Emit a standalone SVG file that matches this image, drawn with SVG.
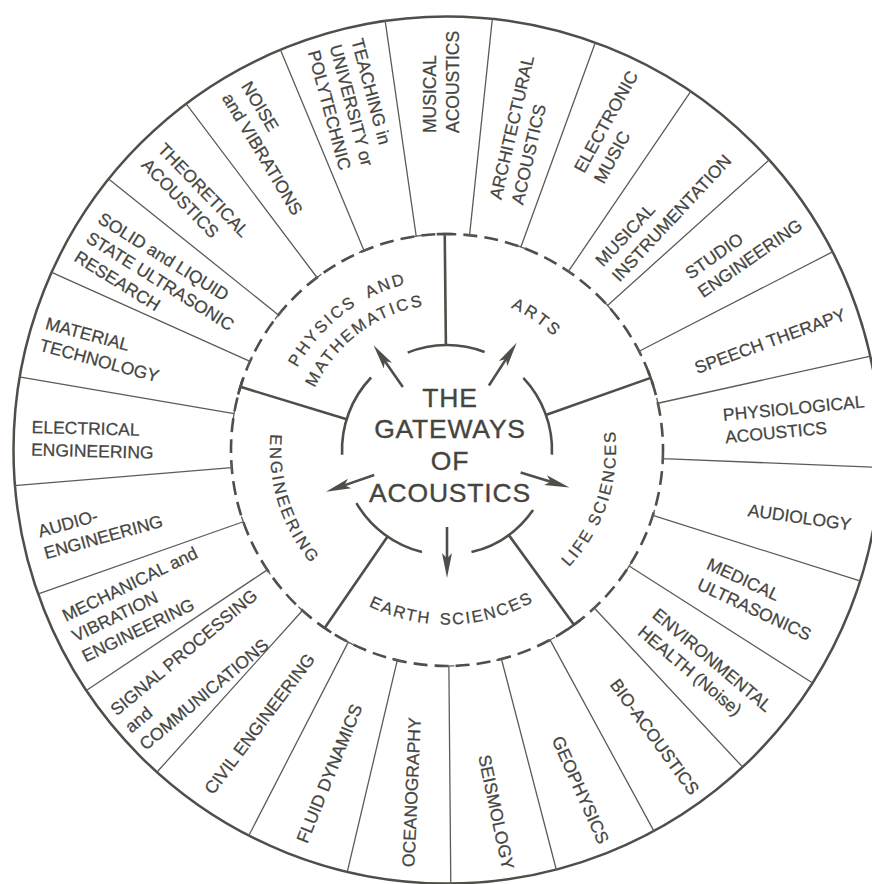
<svg xmlns="http://www.w3.org/2000/svg" xmlns:xlink="http://www.w3.org/1999/xlink" width="872" height="884" viewBox="0 0 872 884">
  <style>
    .ink { fill: #45453f; stroke: #45453f; stroke-width: 0.25; font-family: "Liberation Sans", Arial, Helvetica, sans-serif; }
    .field { font-size: 17.5px; }
    .gate { font-size: 16.5px; letter-spacing: 2.3px; }
    .hub { font-size: 26.5px; letter-spacing: 0.8px; text-anchor: middle; stroke-width: 0.35; }
    .thin { fill: none; stroke: #5c5c56; stroke-width: 1.3; }
    .thick { fill: none; stroke: #4f4f49; stroke-width: 2.6; }
    .rim { fill: none; stroke: #4f4f49; stroke-width: 2.5; }
    .dash { fill: none; stroke: #4f4f49; stroke-width: 2.6; stroke-dasharray: 14 7.1; }
    .head { fill: #4f4f49; stroke: none; }
  </style>
  <defs>
    <!-- radial divider between two fields, drawn at angle 0, with a tick on the dashed ring -->
    <path id="divider" class="thin" d="M663,450H881M663,444.5V455.5"/>
    <!-- heavy spoke from the hub ring to the dashed ring -->
    <path id="spoke" class="thick" d="M551,450H663M663,442V458"/>
    <!-- outward arrow from the hub: slender barbed head -->
    <g id="arrow">
      <path class="thick" d="M524,450H558"/>
      <path class="head" d="M575,450L550,445L555.5,450L550,455Z"/>
    </g>
    <!-- baselines for the curved gateway names -->
    <path id="arc-phys" d="M277.4,471.8A171,171 0 0 1 512.9,292.3"/>
    <path id="arc-math" d="M302.0,467.3A146,146 0 0 1 504.5,315.8"/>
    <path id="arc-arts" d="M378.9,309.7A156,156 0 0 1 602.6,461.2"/>
    <path id="arc-life" d="M480.7,615.6A169,169 0 0 0 573.6,338.0"/>
    <path id="arc-earth" d="M298.5,541.7A174.5,174.5 0 0 0 600.6,532.7"/>
    <path id="arc-eng" d="M316.3,330.6A177,177 0 0 0 409.0,622.9"/>
  </defs>

  <rect width="872" height="884" fill="#ffffff"/>

  <!-- rings -->
  <g id="rings">
    <circle class="rim" cx="447" cy="450" r="433.5"/>
    <circle class="dash" cx="447" cy="450" r="216"/>
    <path class="thick" d="M407.7,352.6A105,105 0 0 1 484.6,352.0"/>
    <path class="thick" d="M523.3,377.9A105,105 0 0 1 551.9,454.6"/>
    <path class="thick" d="M533.1,510.1A105,105 0 0 1 471.5,552.1"/>
    <path class="thick" d="M422.0,552.0A105,105 0 0 1 356.4,503.1"/>
    <path class="thick" d="M342.1,454.8A105,105 0 0 1 371.1,377.5"/>
  </g>

  <!-- connectors: spokes, field dividers and arrows -->
  <g id="connectors">
    <use href="#spoke" transform="rotate(269.4 447 450)"/>
    <use href="#spoke" transform="rotate(340.5 447 450)"/>
    <use href="#spoke" transform="rotate(54 447 450)"/>
    <use href="#spoke" transform="rotate(124.5 447 450)"/>
    <use href="#spoke" transform="rotate(197 447 450)"/>

    <use href="#divider" transform="rotate(2.3 447 450)"/>
    <use href="#divider" transform="rotate(17.6 447 450)"/>
    <use href="#divider" transform="rotate(32.5 447 450)"/>
    <use href="#divider" transform="rotate(47 447 450)"/>
    <use href="#divider" transform="rotate(61.5 447 450)"/>
    <use href="#divider" transform="rotate(75.4 447 450)"/>
    <use href="#divider" transform="rotate(89.5 447 450)"/>
    <use href="#divider" transform="rotate(103.3 447 450)"/>
    <use href="#divider" transform="rotate(117.2 447 450)"/>
    <use href="#divider" transform="rotate(132 447 450)"/>
    <use href="#divider" transform="rotate(146.3 447 450)"/>
    <use href="#divider" transform="rotate(160.6 447 450)"/>
    <use href="#divider" transform="rotate(175.3 447 450)"/>
    <use href="#divider" transform="rotate(189.7 447 450)"/>
    <use href="#divider" transform="rotate(204.2 447 450)"/>
    <use href="#divider" transform="rotate(218.7 447 450)"/>
    <use href="#divider" transform="rotate(233 447 450)"/>
    <use href="#divider" transform="rotate(247.4 447 450)"/>
    <use href="#divider" transform="rotate(261.8 447 450)"/>
    <use href="#divider" transform="rotate(276 447 450)"/>
    <use href="#divider" transform="rotate(290 447 450)"/>
    <use href="#divider" transform="rotate(304.2 447 450)"/>
    <use href="#divider" transform="rotate(318 447 450)"/>
    <use href="#divider" transform="rotate(332.8 447 450)"/>
    <use href="#divider" transform="rotate(347.5 447 450)"/>

    <use href="#arrow" transform="rotate(235 447 450)"/>
    <use href="#arrow" transform="rotate(303 447 450)"/>
    <use href="#arrow" transform="rotate(17 447 450)"/>
    <use href="#arrow" transform="rotate(90 447 450)"/>
    <use href="#arrow" transform="rotate(161 447 450)"/>
  </g>

  <!-- hub -->
  <g id="hub" class="ink hub">
    <text x="450" y="406.5">THE</text>
    <text x="450" y="438.3">GATEWAYS</text>
    <text x="450" y="470">OF</text>
    <text x="450" y="501.7">ACOUSTICS</text>
  </g>

  <!-- gateways -->
  <g id="gate-physics" class="ink gate">
    <text word-spacing="6"><textPath href="#arc-phys" startOffset="50%" text-anchor="middle">PHYSICS AND</textPath></text>
    <text><textPath href="#arc-math" startOffset="50%" text-anchor="middle">MATHEMATICS</textPath></text>
  </g>
  <g id="gate-arts" class="ink gate">
    <text letter-spacing="2.7"><textPath href="#arc-arts" startOffset="50%" text-anchor="middle">ARTS</textPath></text>
  </g>
  <g id="gate-life" class="ink gate">
    <text letter-spacing="2"><textPath href="#arc-life" startOffset="50%" text-anchor="middle">LIFE SCIENCES</textPath></text>
  </g>
  <g id="gate-earth" class="ink gate">
    <text letter-spacing="1.8" word-spacing="3"><textPath href="#arc-earth" startOffset="50%" text-anchor="middle">EARTH SCIENCES</textPath></text>
  </g>
  <g id="gate-engineering" class="ink gate">
    <text><textPath href="#arc-eng" startOffset="50%" text-anchor="middle">ENGINEERING</textPath></text>
  </g>

  <!-- fields -->
  <g id="field-electrical" class="ink field" transform="translate(31.7 427) rotate(1.5)">
    <text><tspan x="0" y="6">ELECTRICAL</tspan><tspan x="0" y="28.5">ENGINEERING</tspan></text>
  </g>
  <g id="field-material" class="ink field" transform="translate(46 323) rotate(15)">
    <text><tspan x="0" y="6">MATERIAL</tspan><tspan x="0" y="28.5">TECHNOLOGY</tspan></text>
  </g>
  <g id="field-ultrasonic" class="ink field" transform="translate(100 217) rotate(32)">
    <text><tspan x="0" y="6">SOLID and LIQUID</tspan><tspan x="0" y="28.5">STATE ULTRASONIC</tspan><tspan x="0" y="51">RESEARCH</tspan></text>
  </g>
  <g id="field-theoretical" class="ink field" transform="translate(161 146) rotate(46)">
    <text><tspan x="0" y="6">THEORETICAL</tspan><tspan x="0" y="28.5">ACOUSTICS</tspan></text>
  </g>
  <g id="field-noise" class="ink field" transform="translate(246 83) rotate(59)">
    <text><tspan x="0" y="6">NOISE</tspan><tspan x="0" y="28.5">and VIBRATIONS</tspan></text>
  </g>
  <g id="field-teaching" class="ink field" transform="translate(357 39) rotate(75)">
    <text><tspan x="0" y="6">TEACHING in</tspan><tspan x="0" y="28.5">UNIVERSITY or</tspan><tspan x="0" y="51">POLYTECHNIC</tspan></text>
  </g>
  <g id="field-musical" class="ink field" transform="translate(430 133) rotate(-90)">
    <text><tspan x="0" y="6">MUSICAL</tspan><tspan x="0" y="28.5">ACOUSTICS</tspan></text>
  </g>
  <g id="field-architectural" class="ink field" transform="translate(495.3 199) rotate(-77)">
    <text><tspan x="0" y="6">ARCHITECTURAL</tspan><tspan x="0" y="28.5">ACOUSTICS</tspan></text>
  </g>
  <g id="field-electronic" class="ink field" transform="translate(578.7 171) rotate(-61)">
    <text><tspan x="0" y="6">ELECTRONIC</tspan><tspan x="0" y="28.5">MUSIC</tspan></text>
  </g>
  <g id="field-instrumentation" class="ink field" transform="translate(598.7 263.3) rotate(-47)">
    <text><tspan x="0" y="6">MUSICAL</tspan><tspan x="0" y="28.5">INSTRUMENTATION</tspan></text>
  </g>
  <g id="field-studio" class="ink field" transform="translate(687 275) rotate(-35)">
    <text><tspan x="0" y="6">STUDIO</tspan><tspan x="0" y="28.5">ENGINEERING</tspan></text>
  </g>
  <g id="field-speech" class="ink field" transform="translate(695.3 368.3) rotate(-20)">
    <text><tspan x="0" y="6">SPEECH THERAPY</tspan></text>
  </g>
  <g id="field-physiological" class="ink field" transform="translate(723 415) rotate(-5.5)">
    <text><tspan x="0" y="6">PHYSIOLOGICAL</tspan><tspan x="0" y="28.5">ACOUSTICS</tspan></text>
  </g>
  <g id="field-audiology" class="ink field" transform="translate(748 510) rotate(8)">
    <text><tspan x="0" y="6">AUDIOLOGY</tspan></text>
  </g>
  <g id="field-medical" class="ink field" transform="translate(708 563) rotate(25)">
    <text><tspan x="0" y="6">MEDICAL</tspan><tspan x="0" y="28.5">ULTRASONICS</tspan></text>
  </g>
  <g id="field-environmental" class="ink field" transform="translate(655 612) rotate(40)">
    <text><tspan x="0" y="6">ENVIRONMENTAL</tspan><tspan x="0" y="28.5">HEALTH (Noise)</tspan></text>
  </g>
  <g id="field-bio" class="ink field" transform="translate(614 681) rotate(54)">
    <text><tspan x="0" y="6">BIO-ACOUSTICS</tspan></text>
  </g>
  <g id="field-geophysics" class="ink field" transform="translate(557 737) rotate(66)">
    <text><tspan x="0" y="6">GEOPHYSICS</tspan></text>
  </g>
  <g id="field-seismology" class="ink field" transform="translate(484 755) rotate(78)">
    <text><tspan x="0" y="6">SEISMOLOGY</tspan></text>
  </g>
  <g id="field-oceanography" class="ink field" transform="translate(408.3 867) rotate(-87.5)">
    <text><tspan x="0" y="6">OCEANOGRAPHY</tspan></text>
  </g>
  <g id="field-fluid" class="ink field" transform="translate(301.7 842) rotate(-68)">
    <text><tspan x="0" y="6">FLUID DYNAMICS</tspan></text>
  </g>
  <g id="field-civil" class="ink field" transform="translate(208.3 792) rotate(-53)">
    <text><tspan x="0" y="6">CIVIL ENGINEERING</tspan></text>
  </g>
  <g id="field-signal" class="ink field" transform="translate(113 712) rotate(-40)">
    <text><tspan x="0" y="6">SIGNAL PROCESSING</tspan><tspan x="0" y="28.5">and</tspan><tspan x="0" y="51">COMMUNICATIONS</tspan></text>
  </g>
  <g id="field-mechanical" class="ink field" transform="translate(63.3 616.7) rotate(-26)">
    <text><tspan x="0" y="6">MECHANICAL and</tspan><tspan x="0" y="28.5">VIBRATION</tspan><tspan x="0" y="51">ENGINEERING</tspan></text>
  </g>
  <g id="field-audio" class="ink field" transform="translate(38.3 531.7) rotate(-15.5)">
    <text><tspan x="0" y="6">AUDIO-</tspan><tspan x="0" y="28.5">ENGINEERING</tspan></text>
  </g>
</svg>
